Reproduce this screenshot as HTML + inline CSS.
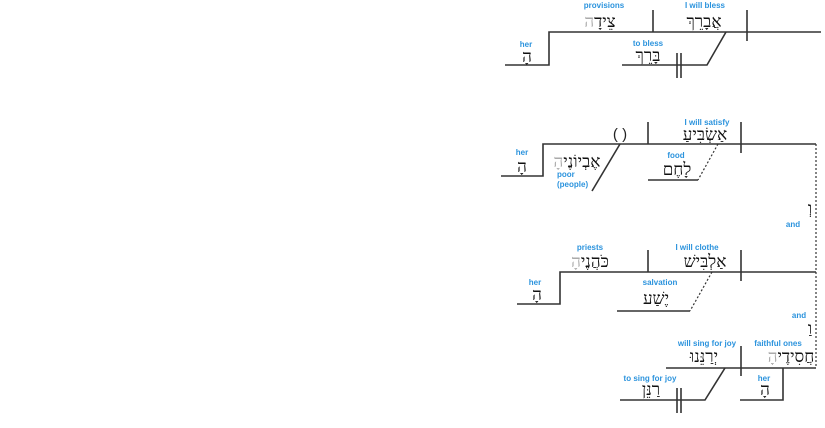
<!DOCTYPE html>
<html><head><meta charset="utf-8"><style>
html,body{margin:0;padding:0;background:#fff;width:825px;height:428px;overflow:hidden}
svg{display:block}
.l{font-family:"Liberation Sans",sans-serif;font-size:8px;font-weight:bold;fill:#2b93dd;text-anchor:middle}
.h{font-family:"Liberation Serif","Noto Serif CJK SC","DejaVu Serif",serif;font-size:17px;fill:#111;text-anchor:middle;direction:rtl}
.g{fill:#aaa}
line,polyline{stroke:#333;stroke-width:1.6;fill:none}
.d{stroke-dasharray:2,2;stroke-width:1.2}
</style></head><body>
<svg width="825" height="428" viewBox="0 0 825 428">
<!-- block 1 -->
<polyline points="505,65 549,65 549,32 821,32"/>
<line x1="653" y1="10" x2="653" y2="32"/>
<line x1="747" y1="10" x2="747" y2="41"/>
<polyline points="622,65 707,65 726,32"/>
<line x1="677" y1="53" x2="677" y2="78"/>
<line x1="681" y1="53" x2="681" y2="78"/>
<text class="l" x="604" y="8">provisions</text>
<text class="h" x="600" y="27">צֵידָ<tspan class="g">ה</tspan></text>
<text class="l" x="705" y="8">I will bless</text>
<text class="h" x="704" y="27">אֲבָרֵךְ</text>
<text class="l" x="526" y="47">her</text>
<text class="h" x="527" y="62">הָ</text>
<text class="l" x="648" y="46">to bless</text>
<text class="h" x="648" y="61">בָּרֵךְ</text>
<!-- block 2 -->
<polyline points="501,176 543,176 543,144 816,144"/>
<line x1="648" y1="122" x2="648" y2="144"/>
<line x1="741" y1="122" x2="741" y2="153"/>
<line x1="620" y1="144" x2="592" y2="191"/>
<text class="l" x="620" y="139" style="font-size:15px;font-weight:normal;fill:#222">( )</text>
<text class="h" x="577" y="167">אֶבְיוֹנֶי<tspan class="g">הָ</tspan></text>
<text class="l" x="557" y="177" style="text-anchor:start">poor</text>
<text class="l" x="557" y="187" style="text-anchor:start">(people)</text>
<line class="d" x1="718" y1="144" x2="698" y2="180"/>
<line x1="648" y1="180" x2="698" y2="180"/>
<text class="l" x="707" y="125">I will satisfy</text>
<text class="h" x="705" y="140">אַשְׂבִּיעַ</text>
<text class="l" x="676" y="158">food</text>
<text class="h" x="677" y="175">לָחֶם</text>
<text class="l" x="522" y="155">her</text>
<text class="h" x="522" y="172">הָ</text>
<line class="d" x1="816" y1="144" x2="816" y2="368"/>
<text class="h" x="810" y="214">וְ</text>
<text class="l" x="793" y="227">and</text>
<!-- block 3 -->
<polyline points="517,304 560,304 560,272 816,272"/>
<line x1="648" y1="250" x2="648" y2="272"/>
<line x1="741" y1="250" x2="741" y2="281"/>
<line class="d" x1="712" y1="272" x2="690" y2="311"/>
<line x1="617" y1="311" x2="690" y2="311"/>
<text class="l" x="590" y="250">priests</text>
<text class="h" x="590" y="267">כֹּהֲנֶי<tspan class="g">הָ</tspan></text>
<text class="l" x="697" y="250">I will clothe</text>
<text class="h" x="705" y="267">אַלְבִּישׁ</text>
<text class="l" x="660" y="285">salvation</text>
<text class="h" x="656" y="304">יֶשַׁע</text>
<text class="l" x="535" y="285">her</text>
<text class="h" x="537" y="300">הָ</text>
<text class="l" x="799" y="318">and</text>
<text class="h" x="810" y="334">וַ</text>
<!-- block 4 -->
<line x1="666" y1="368" x2="816" y2="368"/>
<line x1="741" y1="346" x2="741" y2="376"/>
<polyline points="783,368 783,400 740,400"/>
<polyline points="620,400 705,400 725,368"/>
<line x1="677" y1="388" x2="677" y2="413"/>
<line x1="681" y1="388" x2="681" y2="413"/>
<text class="l" x="707" y="346">will sing for joy</text>
<text class="h" x="704" y="362">יְרַנֵּנוּ</text>
<text class="l" x="778" y="346">faithful ones</text>
<text class="h" x="791" y="362">חֲסִידֶי<tspan class="g">הָ</tspan></text>
<text class="l" x="764" y="381">her</text>
<text class="h" x="765" y="395">הָ</text>
<text class="l" x="650" y="381">to sing for joy</text>
<text class="h" x="651" y="395">רַנֵּן</text>
</svg>
</body></html>
